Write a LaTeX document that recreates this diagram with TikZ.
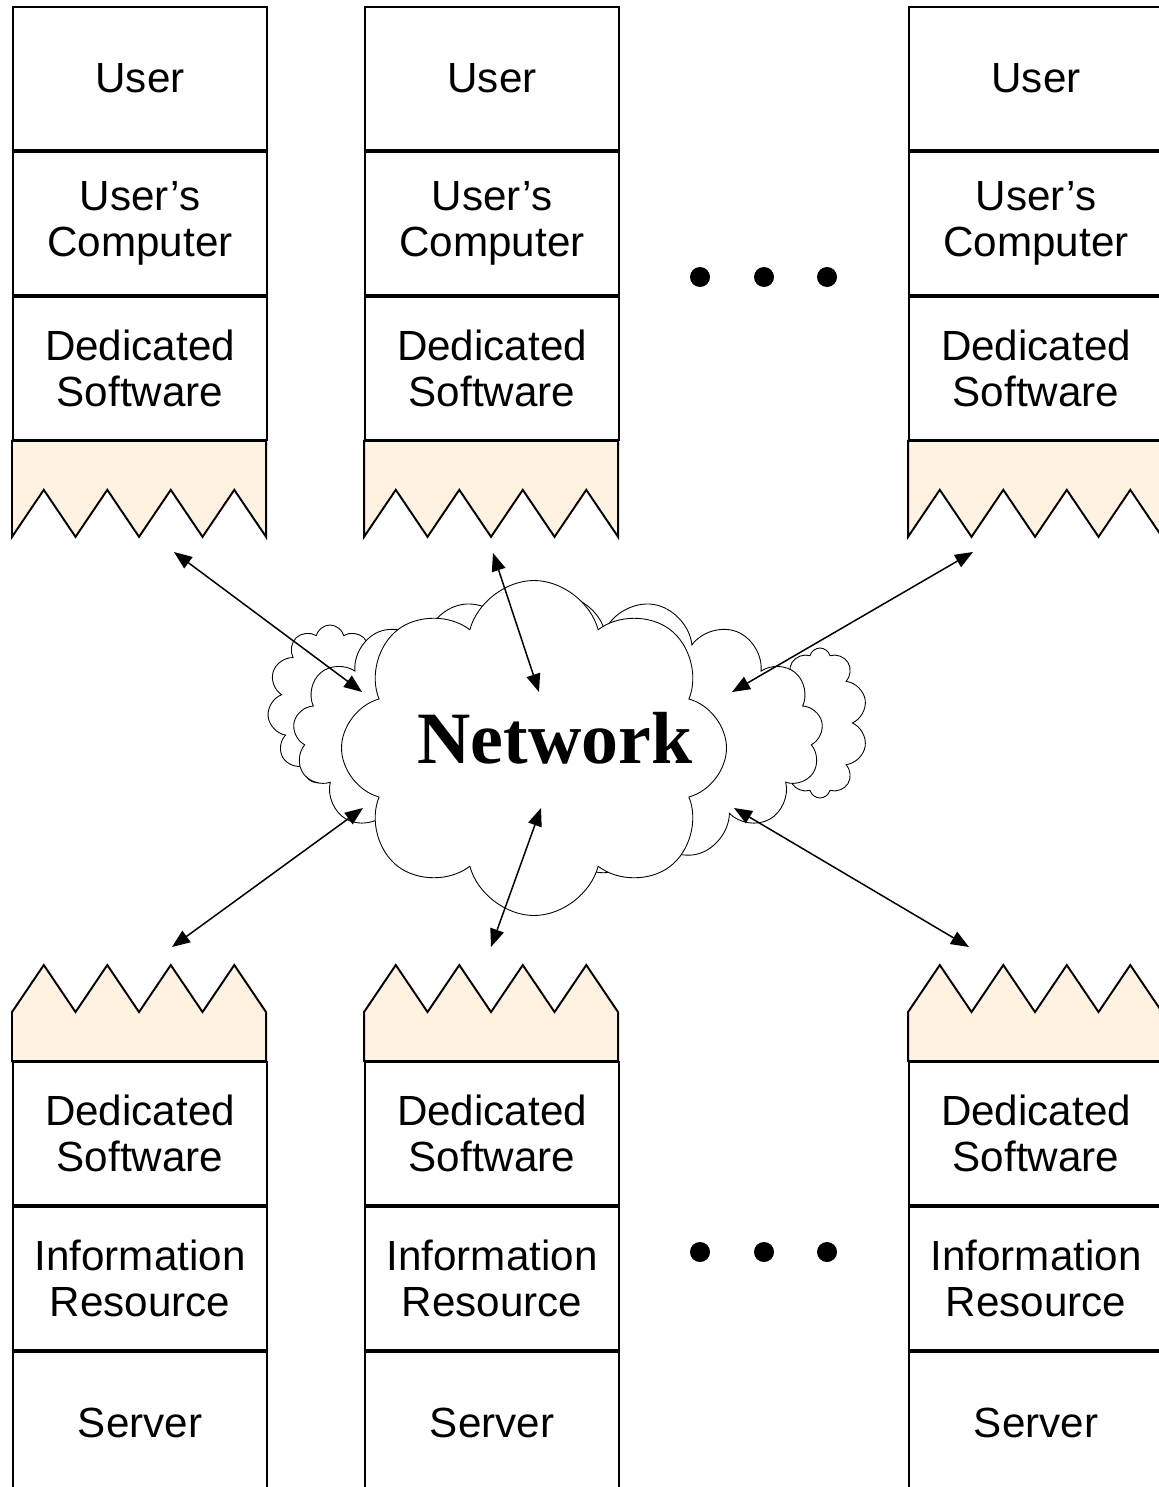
\documentclass[tikz,border=0pt]{standalone}
\usepackage{fontspec}
\setmainfont{Liberation Sans}
\newfontfamily\netfont{Liberation Serif}
\usetikzlibrary{shapes.symbols, arrows.meta, positioning}
\definecolor{ToothFill}{RGB}{255, 242, 224}

\begin{document}
\begin{tikzpicture}[
    x=0.2mm, y=-0.2mm,
    node distance=0pt,
    every node/.style={font=\fontsize{24}{26}\selectfont, align=center},
    layer/.style={rectangle, draw=black, fill=white, line width=1.1pt, minimum width=50.8mm, minimum height=28.6mm, inner sep=0pt},
    teeth/.style={draw=black, fill=ToothFill, line width=1.1pt},
    puff/.style={cloud, draw=black, fill=white, line width=0.5pt, cloud ignores aspect, inner sep=0pt},
    dot/.style={circle, fill=black, minimum size=4mm, inner sep=0pt},
    link/.style={{Triangle[length=3.6mm, width=2.8mm]}-{Triangle[length=3.6mm, width=2.8mm]}, line width=0.85pt}
  ]
    \useasboundingbox (0,0) rectangle (1159,1487);

    % Client stacks
    \node[layer] (user1) at (140,78.5) {User};
    \node[layer, below=of user1] (comp1) {User’s\\Computer};
    \node[layer, below=of comp1] (soft1) {Dedicated\\Software};
    \node[layer] (user2) at (492,78.5) {User};
    \node[layer, below=of user2] (comp2) {User’s\\Computer};
    \node[layer, below=of comp2] (soft2) {Dedicated\\Software};
    \node[layer] (user3) at (1036,78.5) {User};
    \node[layer, below=of user3] (comp3) {User’s\\Computer};
    \node[layer, below=of comp3] (soft3) {Dedicated\\Software};

    % Server stacks
    \node[layer] (srvsoft1) at (140,1133.5) {Dedicated\\Software};
    \node[layer, below=of srvsoft1] (info1) {Information\\Resource};
    \node[layer, below=of info1] (server1) {Server};
    \node[layer] (srvsoft2) at (492,1133.5) {Dedicated\\Software};
    \node[layer, below=of srvsoft2] (info2) {Information\\Resource};
    \node[layer, below=of info2] (server2) {Server};
    \node[layer] (srvsoft3) at (1036,1133.5) {Dedicated\\Software};
    \node[layer, below=of srvsoft3] (info3) {Information\\Resource};
    \node[layer, below=of info3] (server3) {Server};

    % Teeth
    \foreach \c in {1,2,3} {
      \draw[teeth, shift={(soft\c.south west)}] (0,0) -- (0,96)
        \foreach \k in {0,...,3} { -- ({63.5*\k+31.75},49) -- ({63.5*(\k+1)},96) } -- (254,0) -- cycle;
      \draw[teeth, shift={(srvsoft\c.north west)}] (0,0) -- (0,-49)
        \foreach \k in {0,...,3} { -- ({63.5*\k+31.75},-96) -- ({63.5*(\k+1)},-49) } -- (254,0) -- cycle;
    }

    % Ellipsis
    \node[dot] (dotu1) at (700,277) {};
    \node[dot] (dotu2) at (764,277) {};
    \node[dot] (dotu3) at (827,277) {};
    \node[dot] (dots1) at (700,1252) {};
    \node[dot] (dots2) at (764,1252) {};
    \node[dot] (dots3) at (827,1252) {};

    % Network cloud
    \node[puff, cloud puffs=11, minimum width=25mm, minimum height=32mm] (netL) at (330,705) {};
    \node[puff, cloud puffs=10, minimum width=19mm, minimum height=30mm] (netR) at (820,723) {};
    \node[puff, cloud puffs=17, minimum width=106mm, minimum height=56mm] (netM) at (558,735) {};
    \node[puff, cloud puffs=8, minimum width=77mm, minimum height=67mm] (net) at (534,748) {};
    \node[font=\netfont\bfseries\fontsize{42}{48}\selectfont] (netlabel) at (555,738) {Network};

    % Link ends
    \coordinate (tA) at (174,552);
    \coordinate (tB) at (493,553);
    \coordinate (tC) at (973,552);
    \coordinate (bA) at (172,947);
    \coordinate (bB) at (491,947);
    \coordinate (bC) at (969,947);
    \coordinate (nA) at (362,692);
    \coordinate (nB) at (539,692);
    \coordinate (nC) at (732,692);
    \coordinate (nD) at (363,808);
    \coordinate (nE) at (541,808);
    \coordinate (nF) at (734,808);

    % Connections
    \draw[link] (tA) -- (nA);
    \draw[link] (tB) -- (nB);
    \draw[link] (tC) -- (nC);
    \draw[link] (bA) -- (nD);
    \draw[link] (bB) -- (nE);
    \draw[link] (bC) -- (nF);
\end{tikzpicture}
\end{document}
